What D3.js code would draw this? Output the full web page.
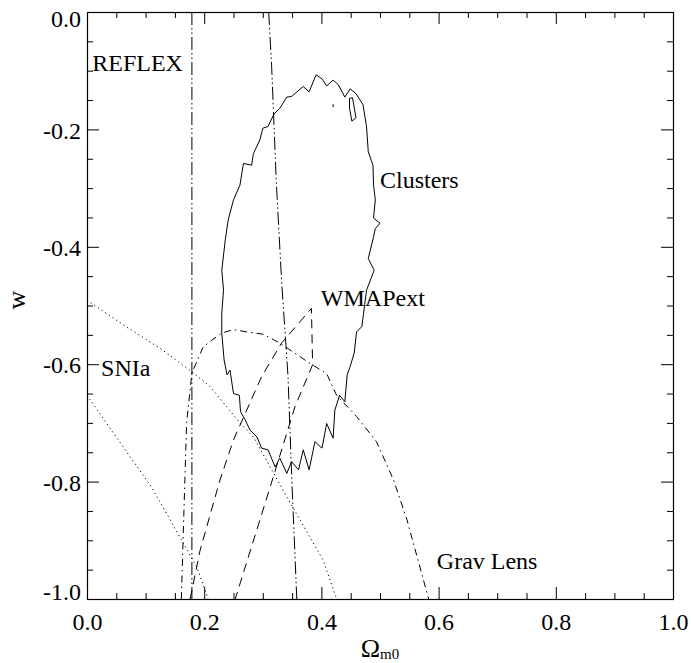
<!DOCTYPE html>
<html>
<head>
<meta charset="utf-8">
<script src="https://cdn.jsdelivr.net/npm/d3@7"></script>
<style>
  html, body { margin: 0; padding: 0; background: #fff; }
  svg { display: block; }
  svg text { font-family: "Liberation Serif", "Times New Roman", Times, "Nimbus Roman", "DejaVu Serif", serif !important; fill: #000; }
</style>
</head>
<body>
<svg id="chart" width="691" height="663"></svg>
<script>
// ---------- data (Omega_m0, w) ----------
const xMajorTicks = [0.0, 0.2, 0.4, 0.6, 0.8, 1.0];
const xTickLabels = ["0.0", "0.2", "0.4", "0.6", "0.8", "1.0"];
const yMajorTicks = [0.0, -0.2, -0.4, -0.6, -0.8, -1.0];
const yTickLabels = ["0.0", "-0.2", "-0.4", "-0.6", "-0.8", "-1.0"];

const clustersContour = [
  [0.391,-0.107],[0.401,-0.114],[0.409,-0.126],[0.420,-0.116],[0.429,-0.124],[0.440,-0.145],
  [0.449,-0.131],[0.459,-0.139],[0.471,-0.158],[0.477,-0.195],[0.480,-0.238],[0.488,-0.261],
  [0.489,-0.295],[0.492,-0.320],[0.489,-0.351],[0.500,-0.360],[0.492,-0.369],[0.489,-0.383],
  [0.480,-0.420],[0.490,-0.440],[0.477,-0.474],[0.472,-0.513],[0.469,-0.536],[0.460,-0.545],
  [0.456,-0.581],[0.449,-0.604],[0.444,-0.618],[0.440,-0.664],[0.431,-0.653],[0.423,-0.678],
  [0.420,-0.726],[0.409,-0.701],[0.401,-0.743],[0.389,-0.732],[0.379,-0.780],[0.369,-0.746],
  [0.361,-0.780],[0.349,-0.766],[0.341,-0.786],[0.329,-0.760],[0.321,-0.775],[0.309,-0.746],
  [0.298,-0.743],[0.290,-0.724],[0.278,-0.712],[0.270,-0.695],[0.262,-0.681],[0.260,-0.653],
  [0.250,-0.650],[0.244,-0.610],[0.239,-0.618],[0.234,-0.593],[0.230,-0.547],[0.230,-0.513],
  [0.233,-0.474],[0.230,-0.440],[0.236,-0.388],[0.241,-0.354],[0.250,-0.320],[0.261,-0.295],
  [0.267,-0.258],[0.281,-0.261],[0.284,-0.241],[0.295,-0.218],[0.300,-0.198],[0.309,-0.195],
  [0.319,-0.174],[0.329,-0.164],[0.341,-0.145],[0.349,-0.144],[0.369,-0.127],[0.379,-0.136]
];
const clustersIsland = [[0.448,-0.147],[0.453,-0.146],[0.459,-0.180],[0.452,-0.186],[0.448,-0.164]];
const clustersDot = [[0.420,-0.157],[0.420,-0.162]];

const snIaUpper = [[0.0,-0.491],[0.068,-0.537],[0.125,-0.573],[0.179,-0.613],[0.210,-0.638],
  [0.261,-0.700],[0.284,-0.724],[0.341,-0.826],[0.403,-0.934],[0.426,-1.0]];
const snIaLower = [[0.0,-0.653],[0.073,-0.757],[0.110,-0.809],[0.187,-0.945],[0.207,-1.0]];

const wmapExt = [[0.176,-1.0],[0.193,-0.917],[0.227,-0.797],[0.250,-0.729],[0.298,-0.621],
  [0.332,-0.564],[0.383,-0.505],[0.385,-0.601],[0.355,-0.672],[0.312,-0.811],[0.253,-1.0]];

const gravLens = [[0.161,-1.0],[0.167,-0.797],[0.170,-0.700],[0.179,-0.615],[0.198,-0.571],
  [0.213,-0.559],[0.230,-0.547],[0.250,-0.541],[0.273,-0.545],[0.301,-0.549],[0.329,-0.564],
  [0.381,-0.599],[0.409,-0.616],[0.426,-0.653],[0.460,-0.689],[0.494,-0.732],[0.523,-0.797],
  [0.546,-0.865],[0.583,-1.0]];

const reflexLeft = [[0.179,0.0],[0.179,-1.0]];
const reflexRight = [[0.310,0.0],[0.315,-0.090],[0.323,-0.289],[0.332,-0.457],[0.343,-0.620],
  [0.350,-0.809],[0.358,-1.0]];

const labelNames = ["REFLEX", "Clusters", "WMAPext", "SNIa", "Grav Lens"];
const labelAnchors = [[0.009,-0.100],[0.500,-0.300],[0.399,-0.501],[0.024,-0.620],[0.597,-0.949]];

// ---------- layout ----------
const M = { l: 87, r: 673, t: 12, b: 599 };
const SERIF = "'Liberation Serif', 'Times New Roman', Times, 'Nimbus Roman', 'DejaVu Serif', serif";
const svg = d3.select("#chart");

const x = d3.scaleLinear().domain([0, 1]).range([M.l, M.r]);
const y = d3.scaleLinear().domain([0, -1]).range([M.t, M.b]);

const FONT = 24;
const minorX = d3.range(0, 1.0001, 0.05).filter(v => Math.abs(Math.round(v * 5) - v * 5) > 1e-6);
const minorY = minorX.map(v => -v);

function styleAxis(g) {
  g.attr("font-family", SERIF);
  g.select(".domain").remove();
  g.selectAll(".tick line").attr("stroke", "#000").attr("stroke-width", 1);
}

// bottom
svg.append("g").attr("transform", `translate(0,${M.b})`)
  .call(d3.axisBottom(x).tickValues(xMajorTicks).tickSize(-12)
        .tickFormat((d, i) => xTickLabels[i]))
  .call(styleAxis)
  .call(g => g.selectAll("text").attr("y", 31).attr("dy", null)
        .attr("font-size", FONT).attr("fill", "#000"));
svg.append("g").attr("transform", `translate(0,${M.b})`)
  .call(d3.axisBottom(x).tickValues(minorX).tickSize(-6).tickFormat(""))
  .call(styleAxis);
// top
svg.append("g").attr("transform", `translate(0,${M.t})`)
  .call(d3.axisTop(x).tickValues(xMajorTicks).tickSize(-12).tickFormat(""))
  .call(styleAxis);
svg.append("g").attr("transform", `translate(0,${M.t})`)
  .call(d3.axisTop(x).tickValues(minorX).tickSize(-6).tickFormat(""))
  .call(styleAxis);
// left
svg.append("g").attr("transform", `translate(${M.l},0)`)
  .call(d3.axisLeft(y).tickValues(yMajorTicks).tickSize(-12)
        .tickFormat((d, i) => yTickLabels[i]))
  .call(styleAxis)
  .call(g => g.selectAll("text")
        .attr("x", -6)
        .attr("dy", (d, i) => i === 0 ? "0.62em" : (i === yMajorTicks.length - 1 ? "0em" : "0.36em"))
        .attr("font-size", FONT).attr("fill", "#000"));
svg.append("g").attr("transform", `translate(${M.l},0)`)
  .call(d3.axisLeft(y).tickValues(minorY).tickSize(-6).tickFormat(""))
  .call(styleAxis);
// right
svg.append("g").attr("transform", `translate(${M.r},0)`)
  .call(d3.axisRight(y).tickValues(yMajorTicks).tickSize(-12).tickFormat(""))
  .call(styleAxis);
svg.append("g").attr("transform", `translate(${M.r},0)`)
  .call(d3.axisRight(y).tickValues(minorY).tickSize(-6).tickFormat(""))
  .call(styleAxis);

// frame
svg.append("rect")
  .attr("x", M.l + 0.5).attr("y", M.t + 0.5)
  .attr("width", M.r - M.l).attr("height", M.b - M.t)
  .attr("fill", "none").attr("stroke", "#000").attr("stroke-width", 1.2);

// clip
svg.append("defs").append("clipPath").attr("id", "plotclip")
  .append("rect").attr("x", M.l).attr("y", M.t)
  .attr("width", M.r - M.l + 1).attr("height", M.b - M.t + 1);

const plot = svg.append("g").attr("clip-path", "url(#plotclip)");
const line = d3.line().x(d => x(d[0])).y(d => y(d[1]));

function drawLine(data, dash, closed) {
  plot.append("path")
    .attr("d", line(data) + (closed ? "Z" : ""))
    .attr("fill", "none").attr("stroke", "#000").attr("stroke-width", 1)
    .attr("stroke-dasharray", dash)
    .attr("stroke-linejoin", "round");
}

drawLine(clustersContour, null, true);
drawLine(clustersIsland, null, true);
drawLine(clustersDot, null, false);
drawLine(snIaUpper, "1.2,3.2", false);
drawLine(snIaLower, "1.2,3.2", false);
drawLine(wmapExt, "9,6", false);
drawLine(gravLens, "7,4,1.5,4", false);
drawLine(reflexLeft, "13,3,1.5,3,1.5,3", false);
drawLine(reflexRight, "13,3,1.5,3,1.5,3", false);

// curve labels
svg.append("g").attr("font-family", SERIF).selectAll("text").data(labelNames).join("text")
  .attr("x", (d, i) => x(labelAnchors[i][0]))
  .attr("y", (d, i) => y(labelAnchors[i][1]))
  .attr("font-size", FONT)
  .text(d => d);

// axis titles
const xt = svg.append("text").attr("x", (M.l + M.r) / 2).attr("y", 657)
  .attr("font-family", SERIF)
  .attr("text-anchor", "middle");
xt.append("tspan").attr("font-size", 26).text("Ω");
xt.append("tspan").attr("font-size", 15).attr("dy", 2).text("m0");

svg.append("text").attr("transform", "translate(25,300) rotate(-90)")
  .attr("font-family", SERIF)
  .attr("text-anchor", "middle").attr("font-size", 26).text("w");
</script>
</body>
</html>
